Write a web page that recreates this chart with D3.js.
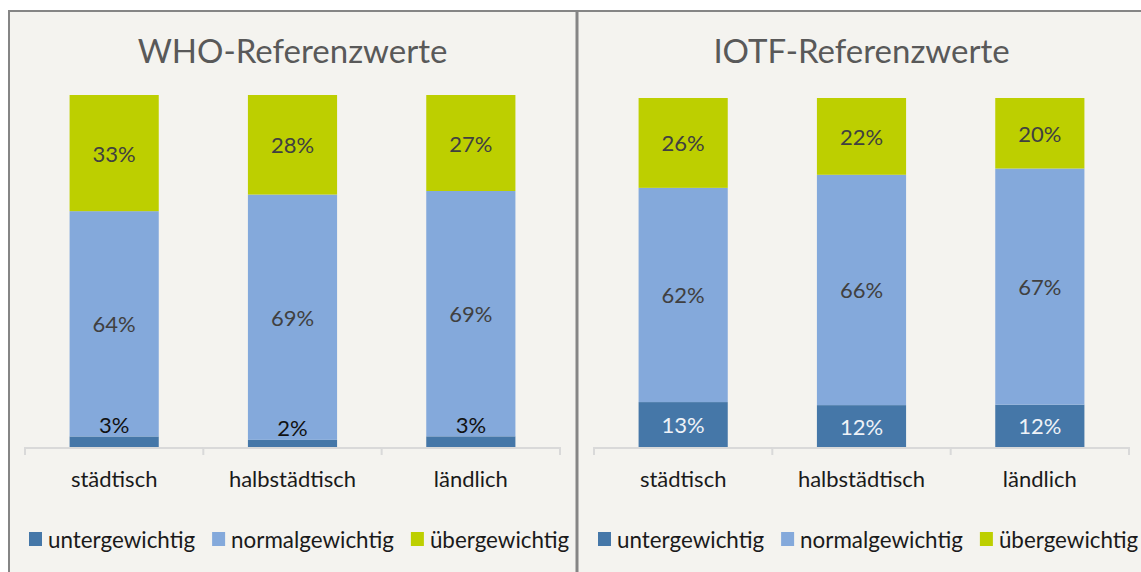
<!DOCTYPE html>
<meta charset="utf-8">
<html>
<script src="https://d3js.org/d3.v7.min.js"></script>
<style>
    body { margin: 0; background: #ffffff; }
    text { font-family: Lato, "Open Sans", sans-serif; }
</style>
<body>
<div id="chart"></div>
<script>
    // Data
    var categories = ["städtisch", "halbstädtisch", "ländlich"];
    var seriesNames = ["untergewichtig", "normalgewichtig", "übergewichtig"];
    var seriesColors = ["#4577a8", "#84a9db", "#bdcf00"];

    var whoUnter = [3, 2, 3];
    var whoNormal = [64, 69, 69];
    var whoUeber = [33, 28, 27];

    var iotfUnter = [13, 12, 12];
    var iotfNormal = [62, 66, 67];
    var iotfUeber = [26, 22, 20];

    var W = 1141, H = 572;

    var svg = d3.select("#chart").append("svg")
        .attr("width", W)
        .attr("height", H);

    // panel backgrounds and frame
    svg.append("rect").attr("x", 9).attr("y", 11).attr("width", W).attr("height", H)
        .attr("fill", "#f4f3ef");
    svg.append("path")
        .attr("d", "M9," + (H + 2) + "V11H" + (W + 2))
        .attr("fill", "none")
        .attr("stroke", "#858585")
        .attr("stroke-width", 2);
    svg.append("line")
        .attr("x1", 577).attr("x2", 577).attr("y1", 11).attr("y2", H + 2)
        .attr("stroke", "#858585").attr("stroke-width", 3);

    function drawPanel(title, unter, normal, ueber, x0, x1, yTop, legendX) {
        var g = svg.append("g");
        var rows = categories.map(function (c, i) {
            return { cat: c, unter: unter[i], normal: normal[i], ueber: ueber[i] };
        });
        var keys = ["unter", "normal", "ueber"];
        var stacked = d3.stack().keys(keys).offset(d3.stackOffsetExpand)(rows);

        var baseY = 447;
        var x = d3.scaleBand().domain(categories).range([x0, x1])
            .paddingInner(0.5).paddingOuter(0.25);
        var y = d3.scaleLinear().domain([0, 1]).range([baseY, yTop]);

        // title
        g.append("text")
            .attr("x", (x0 + x1) / 2)
            .attr("y", 50)
            .attr("text-anchor", "middle")
            .attr("dominant-baseline", "central")
            .attr("fill", "#595959")
            .style("font-size", "33px")
            .text(title);

        // bars
        stacked.forEach(function (layer, k) {
            g.selectAll(".seg" + k)
                .data(layer)
                .enter().append("rect")
                .attr("x", function (d) { return x(d.data.cat); })
                .attr("width", x.bandwidth())
                .attr("y", function (d) { return y(d[1]); })
                .attr("height", function (d) { return y(d[0]) - y(d[1]); })
                .attr("fill", seriesColors[k]);
        });

        // value labels
        stacked.forEach(function (layer, k) {
            g.selectAll(".lab" + k)
                .data(layer)
                .enter().append("text")
                .attr("x", function (d) { return x(d.data.cat) + x.bandwidth() / 2; })
                .attr("y", function (d) {
                    var h = y(d[0]) - y(d[1]);
                    if (h < 20) return y(d[1]) - 12;
                    return (y(d[0]) + y(d[1])) / 2;
                })
                .attr("text-anchor", "middle")
                .attr("dominant-baseline", "central")
                .style("font-size", "22px")
                .attr("fill", function (d) {
                    var h = y(d[0]) - y(d[1]);
                    if (h < 20) return "#111111";
                    return k === 0 ? "#eef2f7" : "#404040";
                })
                .text(function (d) { return d.data[keys[k]] + "%"; });
        });

        // category axis
        var step = x.step();
        var axis = g.append("g").attr("stroke", "#d9d9d9").attr("stroke-width", 2);
        axis.append("line")
            .attr("x1", x0).attr("x2", x1)
            .attr("y1", baseY + 1).attr("y2", baseY + 1);
        d3.range(categories.length + 1).forEach(function (i) {
            var tx = x0 + i * step;
            axis.append("line")
                .attr("x1", tx).attr("x2", tx)
                .attr("y1", baseY).attr("y2", baseY + 8);
        });
        g.selectAll(".cat")
            .data(categories)
            .enter().append("text")
            .attr("x", function (d) { return x(d) + x.bandwidth() / 2; })
            .attr("y", 478)
            .attr("text-anchor", "middle")
            .attr("dominant-baseline", "central")
            .attr("fill", "#1a1a1a")
            .style("font-size", "22px")
            .text(function (d) { return d; });

        // legend
        var lx = legendX;
        seriesNames.forEach(function (name, k) {
            g.append("rect")
                .attr("x", lx).attr("y", 532)
                .attr("width", 13).attr("height", 14)
                .attr("fill", seriesColors[k]);
            var t = g.append("text")
                .attr("x", lx + 19)
                .attr("y", 539)
                .attr("dominant-baseline", "central")
                .attr("fill", "#1a1a1a")
                .style("font-size", "22.4px")
                .text(name);
            lx = lx + 19 + t.node().getComputedTextLength() + 17;
        });
    }

    drawPanel("WHO-Referenzwerte", whoUnter, whoNormal, whoUeber, 25, 560, 95, 29);
    drawPanel("IOTF-Referenzwerte", iotfUnter, iotfNormal, iotfUeber, 594, 1129, 98, 598);
</script>
</body>
</html>
